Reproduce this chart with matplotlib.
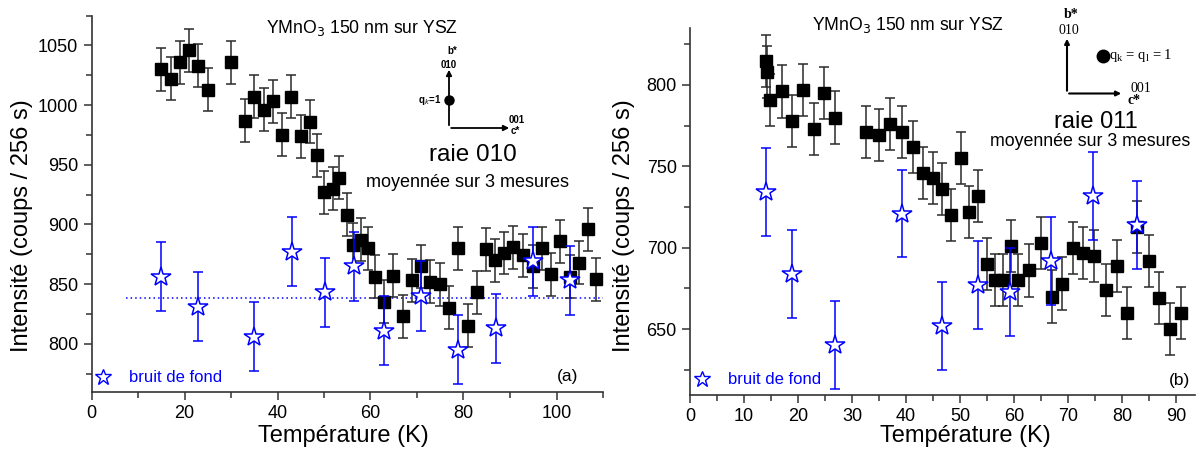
import matplotlib.pyplot as plt
from matplotlib.ticker import MultipleLocator

plt.rcParams['font.family'] = ['Liberation Sans', 'DejaVu Sans']

W, H = 1204, 450

# (a) raie 010 -- averaged over 3 scans
temp_a = [15, 17, 19, 21, 23, 25, 30, 33, 35, 37, 39, 41, 43, 45, 47, 48.5, 50, 52, 53.3, 55,
          56.3, 57.9, 59.4, 61, 62.9, 64.9, 66.9, 68.9, 70.9, 72.9, 74.9, 76.9, 78.9, 80.9,
          83, 84.8, 86.8, 88.7, 90.7, 92.7, 94.9, 96.8, 98.8, 100.8, 102.8, 104.8, 106.7, 108.6]
counts_a = [1030, 1022, 1036, 1046, 1033, 1013, 1036, 987, 1007, 996, 1003, 975, 1007, 974, 986, 958,
            927, 930, 939, 908, 883, 887, 880, 856, 835, 857, 823, 853, 865, 852, 850, 830, 880, 815,
            843, 879, 870, 876, 881, 874, 865, 880, 858, 886, 856, 868, 896, 854]
err_a = 18
bg_temp_a = [15, 23, 35, 43.2, 50.2, 56.5, 62.9, 70.9, 78.9, 87, 94.9, 102.9]
bg_counts_a = [856, 831, 806, 877, 843, 865, 811, 840, 795, 813, 869, 853]
bg_err_a = 29
bg_level_a = 838

# (b) raie 011
temp_b = [14.1, 14.3, 14.9, 17, 18.9, 21, 22.9, 24.9, 26.9, 32.6, 35, 37, 39.2, 41.2, 43.1, 44.9,
          46.7, 48.4, 50.1, 51.7, 53.3, 54.9, 56.4, 57.9, 59.4, 60.8, 62.8, 64.9, 67, 68.8, 70.9,
          72.8, 74.8, 77, 79, 80.9, 82.8, 84.9, 86.8, 88.8, 90.9]
counts_b = [815, 808, 791, 796, 778, 797, 773, 795, 780, 771, 769, 776, 771, 762, 746, 743,
            736, 720, 755, 722, 732, 690, 680, 680, 701, 680, 686, 703, 670, 678, 700,
            697, 695, 674, 689, 660, 713, 692, 669, 650, 660]
err_b = 16
bg_temp_b = [14, 18.9, 26.9, 39.3, 46.7, 53.3, 59.3, 66.9, 74.6, 82.7]
bg_counts_b = [734, 684, 640, 721, 652, 677, 673, 692, 732, 714]
bg_err_b = 27


def fx(x):
    return x / W


def fy(y):
    return 1 - y / H


def style_axis(ax, xmajor, xminor):
    for side in ['top', 'right']:
        ax.spines[side].set_visible(False)
    for side in ['left', 'bottom']:
        ax.spines[side].set_linewidth(1.2)
        ax.spines[side].set_color('#333333')
    ax.xaxis.set_major_locator(MultipleLocator(xmajor))
    ax.xaxis.set_minor_locator(MultipleLocator(xminor))
    ax.yaxis.set_major_locator(MultipleLocator(50))
    ax.yaxis.set_minor_locator(MultipleLocator(25))
    ax.tick_params(which='major', direction='out', length=6, width=1.1, labelsize=13, color='#333333')
    ax.tick_params(which='minor', direction='out', length=4, width=1.1, color='#333333')


def draw_panel(ax, t, c, e, bt, bc, be):
    ax.errorbar(t, c, yerr=e, fmt='s', color='black', ecolor='#2a2a2a', elinewidth=1.1,
                capsize=3.5, capthick=1.1, markersize=8.5, zorder=3)
    ax.errorbar(bt, bc, yerr=be, fmt='*', color='blue', ecolor='blue', elinewidth=1.1,
                capsize=3.5, capthick=1.1, markersize=15, markerfacecolor='white',
                markeredgecolor='blue', markeredgewidth=1.1, zorder=4)


def legend_entry(x, y):
    fig.add_artist(plt.Line2D([fx(x)], [fy(y)], marker='*', markersize=12, markerfacecolor='white',
                              markeredgecolor='blue', markeredgewidth=1.0, linestyle='none'))
    fig.text(fx(x + 26), fy(y), 'bruit de fond', color='blue', ha='left', va='center', fontsize=12)


fig = plt.figure(figsize=(W / 100, H / 100), dpi=100)

# panel (a)
ax1 = fig.add_axes([fx(91.5), fy(392), fx(603 - 91.5), (392 - 15.6) / H])
draw_panel(ax1, temp_a, counts_a, err_a, bg_temp_a, bg_counts_a, bg_err_a)
ax1.hlines(bg_level_a, 7.5, 110, colors='blue', linestyles=(0, (1, 2)), linewidth=1.1, zorder=2)
ax1.set_xlim(0, 110)
ax1.set_ylim(759.5, 1075)
style_axis(ax1, 20, 10)

# panel (b)
ax2 = fig.add_axes([fx(690), fy(395), fx(1195 - 690), (395 - 28) / H])
draw_panel(ax2, temp_b, counts_b, err_b, bg_temp_b, bg_counts_b, bg_err_b)
ax2.set_xlim(0, 93.5)
ax2.set_ylim(609.5, 835)
style_axis(ax2, 10, 5)

# axis labels
for x in [22, 624]:
    fig.text(fx(x), fy(226), 'Intensité (coups / 256 s)', rotation=90, ha='center', va='center', fontsize=17)
fig.text(fx(343), fy(436), 'Température (K)', ha='center', va='center', fontsize=17)
fig.text(fx(965), fy(436), 'Température (K)', ha='center', va='center', fontsize=17)

# titles
fig.text(fx(362), fy(33), 'YMnO$_3$ 150 nm sur YSZ', ha='center', va='baseline', fontsize=12.7)
fig.text(fx(908), fy(30), 'YMnO$_3$ 150 nm sur YSZ', ha='center', va='baseline', fontsize=12.7)

# legends
legend_entry(103, 377)
legend_entry(702, 379)
fig.text(fx(568), fy(377), '(a)', ha='center', va='center', fontsize=12.5)
fig.text(fx(1180), fy(380), '(b)', ha='center', va='center', fontsize=12.5)

# raie labels
fig.text(fx(473), fy(161), 'raie 010', ha='center', va='baseline', fontsize=17.5)
fig.text(fx(468), fy(187), 'moyennée sur 3 mesures', ha='center', va='baseline', fontsize=13)
fig.text(fx(1096), fy(128), 'raie 011', ha='center', va='baseline', fontsize=17)
fig.text(fx(1090), fy(146), 'moyennée sur 3 mesures', ha='center', va='baseline', fontsize=12.8)

# reciprocal-space sketch, panel (a)
arrow = dict(arrowstyle='-|>', color='black', lw=1.3, mutation_scale=8)
fig.add_artist(plt.Line2D([fx(449)], [fy(100)], marker='o', color='black', markersize=6.5))
ax1.annotate('', xy=(fx(449), fy(67)), xytext=(fx(449), fy(128)), xycoords='figure fraction',
             textcoords='figure fraction', arrowprops=arrow)
ax1.annotate('', xy=(fx(512), fy(128)), xytext=(fx(448.4), fy(128)), xycoords='figure fraction',
             textcoords='figure fraction', arrowprops=arrow)
fig.text(fx(452), fy(51), 'b*', ha='center', va='center', fontsize=7, weight='bold')
fig.text(fx(449), fy(65), '010', ha='center', va='center', fontsize=7, weight='bold')
fig.text(fx(441), fy(100), 'q$_k$=1', ha='right', va='center', fontsize=7, weight='bold')
fig.text(fx(517), fy(120), '001', ha='center', va='center', fontsize=7, weight='bold')
fig.text(fx(515), fy(131), 'c*', ha='center', va='center', fontsize=7, weight='bold')

# reciprocal-space sketch, panel (b)
serif = ['Liberation Serif', 'DejaVu Serif']
ax2.annotate('', xy=(fx(1067), fy(36)), xytext=(fx(1067), fy(93.5)), xycoords='figure fraction',
             textcoords='figure fraction', arrowprops=dict(arrowstyle='-|>', color='black', lw=1.5, mutation_scale=7))
ax2.annotate('', xy=(fx(1124), fy(93.5)), xytext=(fx(1066.3), fy(93.5)), xycoords='figure fraction',
             textcoords='figure fraction', arrowprops=dict(arrowstyle='-|>', color='black', lw=1.5, mutation_scale=7))
fig.add_artist(plt.Line2D([fx(1103)], [fy(56)], marker='o', color='black', markersize=9))
fig.text(fx(1109), fy(56), 'q$_\\mathregular{k}$ = q$_\\mathregular{l}$ = 1', ha='left', va='center',
         fontsize=10.5, family=serif)
fig.text(fx(1071), fy(15), 'b*', ha='center', va='center', fontsize=10, weight='bold', family=serif)
fig.text(fx(1069), fy(31), '010', ha='center', va='center', fontsize=10, family=serif)
fig.text(fx(1141), fy(88), '001', ha='center', va='center', fontsize=10, family=serif)
fig.text(fx(1134), fy(100), 'c*', ha='center', va='center', fontsize=10, weight='bold', family=serif)

plt.savefig('out.png', dpi=100)
plt.close()
